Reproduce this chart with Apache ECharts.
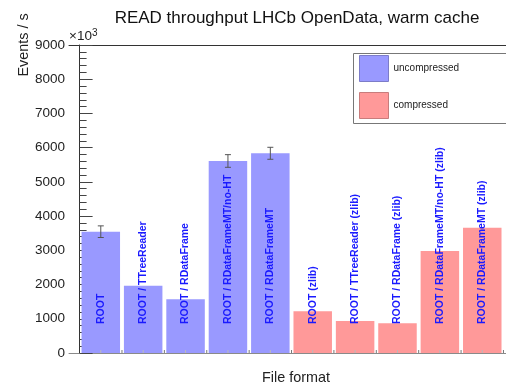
<!DOCTYPE html>
<html>
<head>
<meta charset="utf-8">
<script src="https://cdn.jsdelivr.net/npm/echarts@6/dist/echarts.min.js"></script>
<style>html,body{margin:0;padding:0;background:#fff;}#c{width:506px;height:385px;}</style>
</head>
<body>
<div id="c"></div>
<script>
const categories = ['ROOT', 'ROOT / TTreeReader', 'ROOT / RDataFrame', 'ROOT / RDataFrameMT/no-HT', 'ROOT / RDataFrameMT',
  'ROOT (zlib)', 'ROOT / TTreeReader (zlib)', 'ROOT / RDataFrame (zlib)', 'ROOT / RDataFrameMT/no-HT (zlib)', 'ROOT / RDataFrameMT (zlib)'];
const uncompressed = [3545, 1967, 1569, 5611, 5836];
const compressed = [1218, 935, 867, 2981, 3662];
const errors = [170, 0, 0, 185, 175, 0, 0, 0, 0, 0];
const yTicks = [0, 1000, 2000, 3000, 4000, 5000, 6000, 7000, 8000, 9000];

const FONT = 'Liberation Sans';
const allValues = uncompressed.concat(compressed);

const labelCfg = {
  show: true, position: 'insideBottom', rotate: 90, align: 'left', verticalAlign: 'middle',
  distance: 29, formatter: '{b}', color: '#1a1aff', fontWeight: 'bold', fontSize: 10.5, fontFamily: FONT
};

const chart = echarts.init(document.getElementById('c'), null, {renderer: 'canvas'});
chart.setOption({
  animation: false,
  backgroundColor: '#fff',
  grid: {left: 69, top: 45, right: 0, bottom: 32},
  legend: {
    orient: 'vertical', left: 353, top: 53, itemWidth: 29, itemHeight: 26, itemGap: 10,
    padding: [2, 6, 6, 6], borderWidth: 0, icon: 'rect',
    textStyle: {fontSize: 10, color: '#222', fontFamily: FONT},
    data: [
      {name: 'uncompressed', itemStyle: {borderColor: '#7c7cc8', borderWidth: 1}},
      {name: 'compressed', itemStyle: {borderColor: '#c87c7c', borderWidth: 1}}
    ]
  },
  xAxis: [{
    type: 'value', min: -0.25, max: 10.06,
    axisLine: {show: true, lineStyle: {color: '#8a8a8a', width: 1}},
    axisTick: {show: false}, axisLabel: {show: false}, splitLine: {show: false}
  }, {
    type: 'value', position: 'top', min: -0.25, max: 10.06,
    axisLine: {show: true, lineStyle: {color: '#333', width: 1}},
    axisTick: {show: false}, axisLabel: {show: false}, splitLine: {show: false}
  }],
  yAxis: {
    type: 'value', min: yTicks[0], max: yTicks[yTicks.length - 1], interval: 1000,
    axisLine: {show: true, lineStyle: {color: '#333', width: 1}},
    axisTick: {show: true, inside: true, length: 13, lineStyle: {color: '#444'}},
    minorTick: {show: true, splitNumber: 5, length: 7, lineStyle: {color: '#444'}},
    axisLabel: {color: '#222', fontSize: 13.5, fontFamily: FONT, margin: 4, formatter: v => String(v)},
    splitLine: {show: false}
  },
  series: [{
    name: 'uncompressed', type: 'bar', barWidth: 38.5, barGap: '-100%',
    itemStyle: {color: '#9999ff'},
    label: labelCfg,
    data: uncompressed.map((v, i) => ({name: categories[i], value: [i + 0.5, v]}))
  }, {
    name: 'compressed', type: 'bar', barWidth: 38.5, barGap: '-100%',
    itemStyle: {color: '#ff9999'},
    label: labelCfg,
    data: compressed.map((v, j) => ({name: categories[uncompressed.length + j], value: [uncompressed.length + j + 0.5, v]}))
  }, {
    name: 'errors', type: 'custom', z: 5,
    renderItem: function (params, api) {
      const x = api.value(0), y = api.value(1), e = api.value(2);
      if (!e) return;
      const t = api.coord([x, y + e]), b = api.coord([x, y - e]);
      const st = {stroke: '#555', lineWidth: 1};
      return {type: 'group', children: [
        {type: 'line', shape: {x1: t[0], y1: t[1], x2: b[0], y2: b[1]}, style: st},
        {type: 'line', shape: {x1: t[0] - 3, y1: t[1], x2: t[0] + 3, y2: t[1]}, style: st},
        {type: 'line', shape: {x1: b[0] - 3, y1: b[1], x2: b[0] + 3, y2: b[1]}, style: st}
      ]};
    },
    data: allValues.map((v, i) => [i + 0.5, v, errors[i]])
  }, {
    name: 'ticks', type: 'custom', z: 6, silent: true,
    renderItem: function (params, api) {
      const i = api.value(0);
      const e = api.coord([i + 1, 0]), c = api.coord([i + 0.5, 0]);
      return {type: 'group', children: [
        {type: 'line', shape: {x1: e[0], y1: e[1], x2: e[0], y2: e[1] - 3}, style: {stroke: '#777', lineWidth: 1}},
        {type: 'line', shape: {x1: c[0], y1: c[1], x2: c[0], y2: c[1] - 3}, style: {stroke: '#bbb', lineWidth: 1}}
      ]};
    },
    data: categories.map((c, i) => [i, 0])
  }],
  graphic: [
    {type: 'rect', x: 353.5, y: 53.5, z: 1, shape: {width: 170, height: 70}, style: {fill: '#fff', stroke: '#777', lineWidth: 1}},
    {type: 'text', x: 297, y: 18, style: {text: 'READ throughput LHCb OpenData, warm cache', fontSize: 17, fontFamily: FONT, fill: '#111', align: 'center', verticalAlign: 'middle'}},
    {type: 'text', x: 69, y: 28, style: {text: '×10{s|3}', rich: {s: {fontSize: 10, verticalAlign: 'top', padding: [0, 0, 6, 0], fontFamily: FONT, fill: '#222'}}, fontSize: 13.5, fontFamily: FONT, fill: '#222'}},
    {type: 'text', x: 24, y: 45, rotation: Math.PI / 2, style: {text: 'Events / s', fontSize: 14.4, fontFamily: FONT, fill: '#222', align: 'center', verticalAlign: 'middle'}},
    {type: 'text', x: 296, y: 378, style: {text: 'File format', fontSize: 14.4, fontFamily: FONT, fill: '#222', align: 'center', verticalAlign: 'middle'}}
  ]
});
</script>
</body>
</html>
